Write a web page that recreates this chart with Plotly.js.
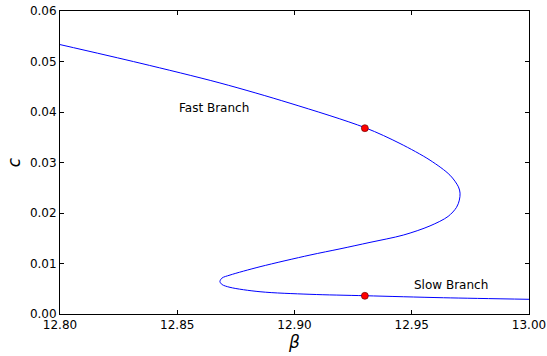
<!DOCTYPE html>
<html>
<head>
<meta charset="utf-8">
<script src="https://cdn.plot.ly/plotly-3.0.1.min.js"></script>
<style>html,body{margin:0;padding:0;background:#fff;}#chart{width:547px;height:356px;}</style>
</head>
<body>
<div id="chart"></div>
<script>
// Bifurcation curve (ordered along the branch)
var betaValues = [12.8000, 12.8341, 12.8682, 12.8981, 12.9301, 12.9450, 12.9578, 12.9663, 12.9699, 12.9706, 12.9703, 12.9691, 12.9655, 12.9578, 12.9464, 12.9322, 12.9194, 12.9066, 12.8853, 12.8725, 12.8691, 12.8682, 12.8691, 12.8725, 12.8853, 12.9066, 12.9301, 12.9635, 13.0000];
var cValues    = [0.05335, 0.04968, 0.04575, 0.04174, 0.03689, 0.03376, 0.03046, 0.02749, 0.02518, 0.02393, 0.02255, 0.02112, 0.01932, 0.01745, 0.01563, 0.01418, 0.01290, 0.01167, 0.00936, 0.00771, 0.00712, 0.00643, 0.00584, 0.00528, 0.00441, 0.00390, 0.00362, 0.00322, 0.00291];
// Marked points
var markerBeta = [12.930, 12.930];
var markerC    = [0.0368, 0.0036];
// Branch labels
var labelText = ["Fast Branch", "Slow Branch"];
var labelBeta = [12.850, 12.950];
var labelC    = [0.0408, 0.0057];
var xTicks = [12.80, 12.85, 12.90, 12.95, 13.00];
var yTicks = [0.00, 0.01, 0.02, 0.03, 0.04, 0.05, 0.06];

var font = "DejaVu Sans, sans-serif";
var traces = [
  {x: betaValues, y: cValues, mode: "lines", type: "scatter",
   line: {color: "#0000ff", width: 1, shape: "spline", smoothing: 0.9}, hoverinfo: "skip"},
  {x: markerBeta, y: markerC, mode: "markers", type: "scatter",
   marker: {color: "#ff0000", size: 7, line: {color: "#550000", width: 0.6}}}
];
var annotations = labelText.map(function(t, i){
  return {x: labelBeta[i], y: labelC[i], xref: "x", yref: "y", text: t, showarrow: false,
          xanchor: "left", yanchor: "middle", font: {family: font, size: 12, color: "#000"}};
});
var axisCommon = {
  showgrid: false, zeroline: false, showline: true, linecolor: "#000", linewidth: 1,
  mirror: "ticks", ticks: "inside", ticklen: 4, tickwidth: 1, tickcolor: "#000",
  tickfont: {family: font, size: 12, color: "#000"}, tickformat: ".2f", automargin: false
};
var layout = {
  width: 547, height: 356,
  margin: {l: 60, r: 18, t: 11, b: 42},
  paper_bgcolor: "#fff", plot_bgcolor: "#fff",
  showlegend: false,
  xaxis: Object.assign({}, axisCommon, {range: [12.8, 13.0], tickvals: xTicks,
    title: {text: "<i>β</i>", font: {family: font, size: 17, color: "#000"}, standoff: 2}}),
  yaxis: Object.assign({}, axisCommon, {range: [0, 0.06], tickvals: yTicks,
    title: {text: "<i>c</i>", font: {family: font, size: 17, color: "#000"}, standoff: 4}}),
  annotations: annotations
};
Plotly.newPlot("chart", traces, layout, {displayModeBar: false, staticPlot: true});
</script>
</body>
</html>
